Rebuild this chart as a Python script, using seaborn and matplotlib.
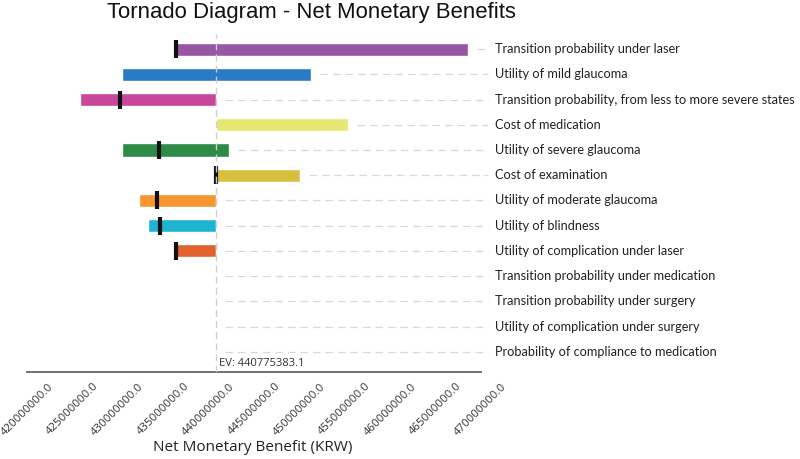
import matplotlib
matplotlib.use("Agg")
import matplotlib.pyplot as plt
import matplotlib.transforms as mtransforms
import numpy as np
import pandas as pd
import seaborn as sns

# parameters, top to bottom
params = [
    "Transition probability under laser",
    "Utility of mild glaucoma",
    "Transition probability, from less to more severe states",
    "Cost of medication",
    "Utility of severe glaucoma",
    "Cost of examination",
    "Utility of moderate glaucoma",
    "Utility of blindness",
    "Utility of complication under laser",
    "Transition probability under medication",
    "Transition probability under surgery",
    "Utility of complication under surgery",
    "Probability of compliance to medication",
]
ev = 440775383.1
low = [436400000, 430450000, 425800000, ev, 430500000, ev, 432300000, 433350000, 436400000, ev, ev, ev, ev]
high = [468600000, 451250000, ev, 455400000, 442200000, 450100000, ev, ev, ev, ev, ev, ev, ev]
# base-case marker inside each bar (None = not shown)
marker = [436400000, None, 430200000, None, 434500000, ev, 434300000, 434600000, 436400000, None, None, None, None]
colors = ["#9657A5", "#2A7BC6", "#C8479A", "#E6E772", "#2E8B47", "#D6BE3F",
          "#F5962E", "#1FB3D2", "#E0632E", "#FFFFFF", "#FFFFFF", "#FFFFFF", "#FFFFFF"]
ticks = np.arange(420000000, 470000001, 5000000)

df = pd.DataFrame({"param": params, "low": low, "high": high, "marker": marker, "color": colors})
df["pos"] = np.arange(len(df))

sns.set_theme(style="white")
plt.rcParams["font.family"] = ["Open Sans", "DejaVu Sans"]

fig = plt.figure(figsize=(8, 4.59), dpi=100)
ax = fig.add_axes([0.034, 0.1895, 0.567, 0.7365])

# dashed guide lines from bar end to the labels
for _, r in df.iterrows():
    ax.plot([max(r["high"], ev) + 1000000, 470800000], [r["pos"], r["pos"]],
            color="#D8D8D8", lw=0.9, ls=(0, (6, 4)), zorder=1, clip_on=False)

has_bar = df["high"] > df["low"]
ax.barh(df.loc[has_bar, "pos"], df.loc[has_bar, "high"] - df.loc[has_bar, "low"],
        left=df.loc[has_bar, "low"], height=0.52, color=df.loc[has_bar, "color"], zorder=2)

mk = df.dropna(subset=["marker"])
sns.scatterplot(data=mk, x="marker", y="pos", marker="|", s=170, linewidth=3,
                color="#111111", ax=ax, zorder=3, legend=False)

ax.axvline(ev, color="#CFCFCF", lw=1.0, ls=(0, (5, 3)), zorder=4, ymax=1.0)

ax.set_xlim(420000000, 470000000)
ax.set_ylim(12.8, -0.6)
ax.set_yticks([])
ax.set_ylabel("")
ax.set_xticks(ticks)
ax.set_xticklabels([f"{t:.1f}" for t in ticks], rotation=45, ha="center",
                   fontsize=8.2, color="#333333")
ax.tick_params(axis="x", direction="inout", length=9, width=1, color="#666666", pad=2)
for s in ["top", "right", "left"]:
    ax.spines[s].set_visible(False)
ax.spines["bottom"].set_color("#666666")
ax.spines["bottom"].set_linewidth(1.3)

ax.set_xlabel("Net Monetary Benefit (KRW)", fontsize=11, color="#222222")
ax.xaxis.set_label_coords(0.498, -0.2)

# parameter labels on the right
trans = mtransforms.blended_transform_factory(ax.transAxes, ax.transData)
for _, r in df.iterrows():
    ax.text(1.032, r["pos"], r["param"], transform=trans, ha="left", va="center",
            fontsize=9.2, color="#222222", family=["Lato", "DejaVu Sans"])

ax.text(ev + 400000, 12.45, f"EV: {ev:.1f}", fontsize=8, color="#333333",
        ha="left", va="center")

fig.text(0.134, 0.972, "Tornado Diagram - Net Monetary Benefits", fontsize=15.9,
         color="#111111", ha="left", va="center", family=["Liberation Sans", "DejaVu Sans"])

fig.savefig("out.png", dpi=100)
